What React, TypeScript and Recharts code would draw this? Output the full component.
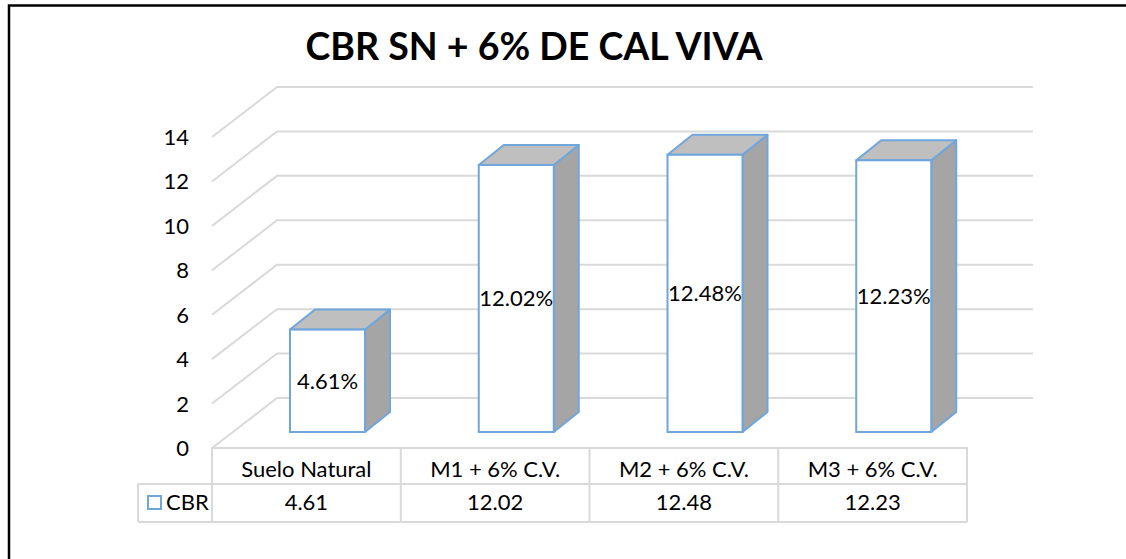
import React from 'react';
import { BarChart, Bar, XAxis, YAxis, CartesianGrid, LabelList } from 'recharts';

const categories = ['Suelo Natural', 'M1 + 6% C.V.', 'M2 + 6% C.V.', 'M3 + 6% C.V.'];
const cbrValues = [4.61, 12.02, 12.48, 12.23];
const yTicks = [0, 2, 4, 6, 8, 10, 12, 14];
const seriesName = 'CBR';
const title = 'CBR SN + 6% DE CAL VIVA';

const data = categories.map((name, i) => ({ name, cbr: cbrValues[i] }));

const W = 1126;
const H = 559;
const PLOT_LEFT = 212;
const PLOT_RIGHT = 967;
const COL_W = (PLOT_RIGHT - PLOT_LEFT) / categories.length;
const FONT = 'Lato, "Open Sans", sans-serif';

// table rows (y)
const ROW_TOP = 447;
const ROW_MID = 484;
const ROW_BOT = 522;

// 3d offsets
const WALL_DX = 65;
const WALL_DY = -50;
const FACE_DX = 21;
const FACE_DY = -16;
const DEPTH_DX = 25;
const DEPTH_DY = -20;

const BLUE = '#6fa6dc';
const GRID = '#d9d9d9';

const Box3D = (props: any) => {
  const { x, y, width, height } = props;
  const fx = x + FACE_DX;
  const fy = y + FACE_DY;
  const bx = fx + DEPTH_DX;
  const by = fy + DEPTH_DY;
  const top = `${fx},${fy} ${bx},${by} ${bx + width},${by} ${fx + width},${fy}`;
  const side = `${fx + width},${fy} ${bx + width},${by} ${bx + width},${by + height} ${fx + width},${fy + height}`;
  return (
    <g>
      <polygon points={side} fill="#a5a5a5" stroke={BLUE} strokeWidth={2} strokeLinejoin="round" />
      <polygon points={top} fill="#bfbfbf" stroke={BLUE} strokeWidth={2} strokeLinejoin="round" />
      <rect x={fx} y={fy} width={width} height={height} fill="#fff" stroke={BLUE} strokeWidth={2} />
    </g>
  );
};

const BarLabel = (props: any) => {
  const { x, y, width, height, value } = props;
  return (
    <text
      x={x + FACE_DX + width / 2}
      y={y + FACE_DY + height / 2 + 8}
      textAnchor="middle"
      fontFamily={FONT}
      fontSize={22}
      fill="#000"
    >
      {`${Number(value).toFixed(2)}%`}
    </text>
  );
};

const YTick = (props: any) => {
  const { y, payload } = props;
  return (
    <text x={189} y={y + 8} textAnchor="end" fontFamily={FONT} fontSize={22} fill="#000">
      {payload.value}
    </text>
  );
};

// data table under the plot, drawn from the x axis ticks
const TableTick = (props: any) => {
  const { x, payload } = props;
  const i = payload.index;
  const left = x - COL_W / 2;
  const right = x + COL_W / 2;
  return (
    <g>
      <line x1={left} y1={ROW_TOP} x2={left} y2={ROW_BOT} stroke={GRID} strokeWidth={2} />
      {i === categories.length - 1 && (
        <line x1={right} y1={ROW_TOP} x2={right} y2={ROW_BOT} stroke={GRID} strokeWidth={2} />
      )}
      <line x1={i === 0 ? 138 : left} y1={ROW_MID} x2={right} y2={ROW_MID} stroke={GRID} strokeWidth={2} />
      <line x1={i === 0 ? 138 : left} y1={ROW_BOT} x2={right} y2={ROW_BOT} stroke={GRID} strokeWidth={2} />
      {i === 0 && (
        <g>
          <line x1={138} y1={ROW_MID} x2={138} y2={ROW_BOT} stroke={GRID} strokeWidth={2} />
          <rect x={148} y={496} width={13} height={13} fill="#fff" stroke={BLUE} strokeWidth={2} />
          <text x={166} y={510} fontFamily={FONT} fontSize={22} fill="#000">
            {seriesName}
          </text>
        </g>
      )}
      <text x={x} y={477} textAnchor="middle" fontFamily={FONT} fontSize={22} fill="#000">
        {payload.value}
      </text>
      <text x={x} y={510} textAnchor="middle" fontFamily={FONT} fontSize={22} fill="#000">
        {cbrValues[i].toFixed(2)}
      </text>
    </g>
  );
};

const WallLine = (props: any) => {
  const { x1, x2, y1 } = props;
  const pts = `${x1},${y1} ${x1 + WALL_DX},${y1 + WALL_DY} ${x2 + WALL_DX + 1},${y1 + WALL_DY}`;
  return <polyline key={props.key} points={pts} fill="none" stroke={GRID} strokeWidth={2} />;
};

export default function App() {
  return (
    <div style={{ position: 'absolute', left: 0, top: 0, width: W, height: H, overflow: 'hidden', background: '#fff' }}>
      <svg width={W} height={H} style={{ position: 'absolute', left: 0, top: 0 }}>
        <rect x={9} y={5.5} width={1300} height={700} fill="none" stroke="#000" strokeWidth={2.5} />
        <text x={534} y={60} textAnchor="middle" fontFamily={FONT} fontWeight="bold" fontSize={37.5} fill="#000">
          {title}
        </text>
      </svg>
      <div style={{ position: 'absolute', left: 0, top: 0 }}>
        <BarChart
          width={W}
          height={H}
          data={data}
          margin={{ top: 137, right: W - PLOT_RIGHT, left: 152, bottom: 31 }}
        >
          <CartesianGrid vertical={false} horizontal={(p: any) => <WallLine {...p} />} />
          <XAxis
            dataKey="name"
            height={80}
            axisLine={{ stroke: GRID, strokeWidth: 2 }}
            tickLine={false}
            tick={<TableTick />}
            interval={0}
          />
          <YAxis
            width={60}
            domain={[0, 14]}
            ticks={yTicks}
            axisLine={false}
            tickLine={false}
            tick={<YTick />}
          />
          <Bar dataKey="cbr" barSize={75} shape={<Box3D />} isAnimationActive={false}>
            <LabelList dataKey="cbr" content={<BarLabel />} />
          </Bar>
        </BarChart>
      </div>
    </div>
  );
}
